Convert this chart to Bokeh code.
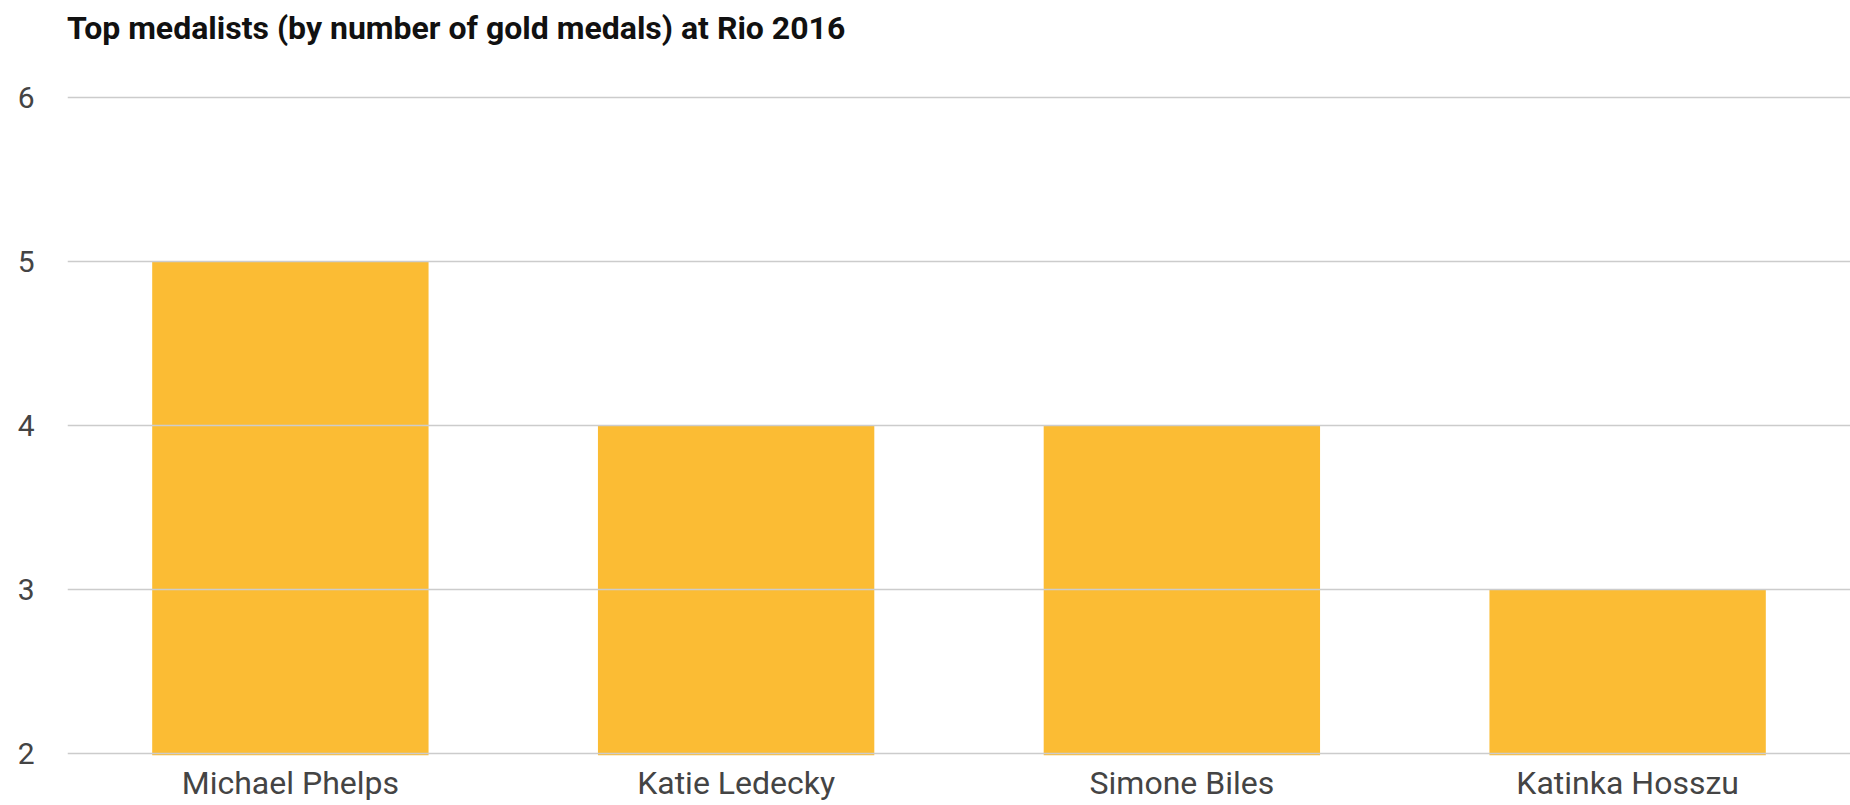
from bokeh.plotting import figure
from bokeh.models import Range1d, FactorRange, FixedTicker, Div
from bokeh.layouts import column
from bokeh.embed import file_html
from bokeh.resources import INLINE

athletes = ["Michael Phelps", "Katie Ledecky", "Simone Biles", "Katinka Hosszu"]
gold_medals = [5, 4, 4, 3]
y_ticks = [2, 3, 4, 5, 6]
title_text = "Top medalists (by number of gold medals) at Rio 2016"

title = Div(text=title_text, width=1850, height=56, margin=(0, 0, 0, 0),
            styles={"font-family": "Roboto", "font-weight": "bold", "font-size": "32px",
                    "color": "#111111", "line-height": "56px", "padding-left": "67px",
                    "box-sizing": "border-box", "white-space": "nowrap"})

p = figure(width=1850, height=749, output_backend="svg", toolbar_location=None,
           x_range=FactorRange(*athletes, range_padding=0), y_range=Range1d(1.99, 6.01),
           min_border_left=67, min_border_right=0, min_border_top=39, min_border_bottom=50,
           margin=(0, 0, 0, 0))

p.vbar(x=athletes, top=gold_medals, bottom=0, width=0.62, color="#FBBC34", line_color=None,
       level="underlay")

p.outline_line_color = None
p.xgrid.grid_line_color = None
p.ygrid.grid_line_color = "#cccccc"
p.ygrid.grid_line_width = 1.5
p.ygrid.level = "glyph"
p.yaxis.ticker = FixedTicker(ticks=y_ticks)

for ax in (p.xaxis, p.yaxis):
    ax.axis_line_color = None
    ax.major_tick_line_color = None
    ax.minor_tick_line_color = None
    ax.major_tick_in = 0
    ax.major_tick_out = 0
    ax.minor_tick_in = 0
    ax.minor_tick_out = 0
    ax.major_label_text_font = "Roboto"
    ax.major_label_text_color = "#444444"

p.xaxis.major_label_text_font_size = "32px"
p.yaxis.major_label_text_font_size = "30px"
p.yaxis.major_label_standoff = 33
p.xaxis.major_label_standoff = 8

layout = column(title, p, spacing=0, margin=(0, 0, 0, 0))

open("out.html", "w").write(file_html(layout, INLINE))
